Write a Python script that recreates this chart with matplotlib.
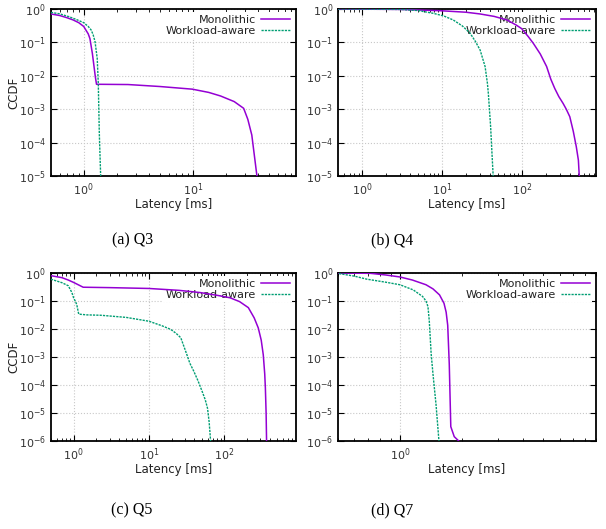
import matplotlib
matplotlib.use("Agg")
import matplotlib.pyplot as plt
from matplotlib.ticker import LogLocator, NullLocator, NullFormatter

# values (latency in ms, CCDF)
q3_mono_x = [0.5, 0.6, 0.7, 0.8, 0.9, 1.0, 1.1, 1.14, 1.2, 1.28, 1.31, 2.55, 5.0, 9.9, 14, 18, 24, 29.3, 32, 34.8, 38.7, 39.0]
q3_mono_y = [0.71, 0.64, 0.55, 0.47, 0.39, 0.30, 0.18, 0.13, 0.047, 0.009, 5.6e-3, 5.5e-3, 4.8e-3, 4.0e-3,
             3.2e-3, 2.5e-3, 1.7e-3, 1.07e-3, 5e-4, 1.7e-4, 1.07e-5, 1e-5]
q3_wa_x = [0.5, 0.6, 0.73, 0.85, 1.0, 1.1, 1.17, 1.22, 1.27, 1.33, 1.36, 1.39, 1.43]
q3_wa_y = [0.79, 0.72, 0.59, 0.49, 0.39, 0.30, 0.235, 0.17, 0.105, 0.033, 6e-3, 1.9e-4, 1e-5]

q4_mono_x = [0.5, 3.0, 9.4, 20, 30, 45, 65, 85, 99, 120, 139, 170, 204, 230, 258, 290, 328, 360, 398, 440, 480, 510, 523]
q4_mono_y = [1.0, 0.97, 0.89, 0.8, 0.71, 0.6, 0.47, 0.33, 0.26, 0.15, 0.094, 0.045, 0.019, 8e-3, 4.2e-3,
             2.4e-3, 1.5e-3, 1e-3, 6e-4, 2.2e-4, 7.6e-5, 3e-5, 1e-5]
q4_wa_x = [0.5, 3.0, 5.0, 7.8, 10.5, 13.8, 18, 22.4, 26, 30, 34.6, 37, 38, 40.6, 42, 43.7]
q4_wa_y = [1.0, 0.97, 0.9, 0.74, 0.62, 0.47, 0.31, 0.19, 0.11, 0.059, 0.019, 6e-3, 3e-3, 3e-4, 6e-5, 1e-5]

q5_mono_x = [0.5, 0.7, 0.85, 1.0, 1.2, 1.34, 3.0, 10, 25, 48, 80, 120, 160, 209, 250, 283, 310, 330, 345, 352, 360, 365]
q5_mono_y = [0.8, 0.68, 0.56, 0.46, 0.36, 0.31, 0.30, 0.28, 0.24, 0.2, 0.16, 0.13, 0.095, 0.058, 0.025,
             0.011, 4e-3, 1.2e-3, 2.5e-4, 7.7e-5, 1e-5, 1e-6]
q5_wa_x = [0.5, 0.7, 0.85, 0.95, 1.0, 1.05, 1.1, 1.17, 1.5, 2.3, 5.0, 10, 15, 19.5, 23, 26.5, 29, 32, 35,
           39.5, 45, 51, 56, 60, 63, 66]
q5_wa_y = [0.6, 0.45, 0.35, 0.2, 0.13, 0.1, 0.076, 0.034, 0.032, 0.031, 0.026, 0.019, 0.013, 9.7e-3, 7e-3,
           4.9e-3, 2.5e-3, 1.2e-3, 6e-4, 3.1e-4, 1.4e-4, 5.9e-5, 3e-5, 1.5e-5, 5e-6, 1e-6]

q7_mono_x = [0.5, 0.72, 0.85, 1.0, 1.15, 1.34, 1.45, 1.56, 1.64, 1.68, 1.71, 1.74, 1.77, 1.84, 1.94]
q7_mono_y = [1.0, 0.97, 0.85, 0.72, 0.56, 0.38, 0.27, 0.165, 0.083, 0.04, 0.0136, 5.6e-4, 3.3e-6, 1.45e-6, 1e-6]
q7_wa_x = [0.505, 0.6, 0.69, 0.85, 1.0, 1.16, 1.29, 1.34, 1.37, 1.39, 1.42, 1.45, 1.50, 1.55]
q7_wa_y = [0.95, 0.77, 0.6, 0.47, 0.38, 0.25, 0.145, 0.1, 0.063, 0.02, 1.3e-3, 2.4e-4, 2e-5, 1e-6]

panels = [
    ("(a) Q3", q3_mono_x, q3_mono_y, q3_wa_x, q3_wa_y, (0.5, 88), (1e-5, 1)),
    ("(b) Q4", q4_mono_x, q4_mono_y, q4_wa_x, q4_wa_y, (0.5, 840), (1e-5, 1)),
    ("(c) Q5", q5_mono_x, q5_mono_y, q5_wa_x, q5_wa_y, (0.5, 890), (1e-6, 1)),
    ("(d) Q7", q7_mono_x, q7_mono_y, q7_wa_x, q7_wa_y, (0.5, 9), (1e-6, 1)),
]

# axes rectangles in figure fractions (left, bottom, width, height)
rects = [
    (0.084, 0.667, 0.404, 0.316),
    (0.558, 0.667, 0.425, 0.316),
    (0.084, 0.166, 0.404, 0.318),
    (0.558, 0.166, 0.425, 0.318),
]
caption_pos = [(0.218, 0.545), (0.647, 0.545), (0.218, 0.035), (0.647, 0.035)]

mono_color = "#9400D3"
wa_color = "#009E73"
tick_color = "#333333"

fig = plt.figure(figsize=(6.06, 5.29), dpi=100)

for i, (cap, mx, my, wx, wy, xl, yl) in enumerate(panels):
    ax = fig.add_axes(rects[i])
    ax.set_xscale("log")
    ax.set_yscale("log")
    ax.plot(mx, my, color=mono_color, lw=1.1, label="Monolithic", zorder=3)
    ax.plot(wx, wy, color=wa_color, lw=1.0, ls=(0, (1.6, 0.8)), label="Workload-aware", zorder=3)
    ax.set_xlim(*xl)
    ax.set_ylim(*yl)
    ax.xaxis.set_major_locator(LogLocator(base=10, numticks=10))
    ax.xaxis.set_minor_locator(LogLocator(base=10, subs=range(2, 10), numticks=20))
    ax.xaxis.set_minor_formatter(NullFormatter())
    ax.yaxis.set_major_locator(LogLocator(base=10, numticks=10))
    ax.yaxis.set_minor_locator(NullLocator())
    ax.set_axisbelow(True)
    ax.grid(True, which="major", color="#c8c8c8", ls=":", lw=0.8)
    ax.tick_params(which="both", direction="in", top=True, right=True,
                   labelsize=8, labelcolor=tick_color, color="black")
    ax.tick_params(which="major", length=4, width=0.8)
    ax.tick_params(which="minor", length=2.5, width=0.6)
    for s in ax.spines.values():
        s.set_linewidth(1.3)
    ax.set_xlabel("Latency [ms]", fontsize=8.5, color="#222222", labelpad=0)
    if i % 2 == 0:
        ax.set_ylabel("CCDF", fontsize=8.5, color="#222222")
        ax.yaxis.set_label_coords(-0.125, 0.5)
    leg = ax.legend(loc="upper right", markerfirst=False, fontsize=8, frameon=True,
                    fancybox=False, edgecolor="none", facecolor="white", framealpha=1,
                    handlelength=2.6, handletextpad=0.5, borderpad=0.2,
                    labelspacing=0.15, borderaxespad=0.3)
    leg.set_zorder(2)
    for t in leg.get_texts():
        t.set_color("#222222")
        t.set_ha("right")
    fig.text(caption_pos[i][0], caption_pos[i][1], cap, ha="center", va="center",
             fontsize=11.5, family="Liberation Serif")

fig.savefig("out.png", dpi=100)
